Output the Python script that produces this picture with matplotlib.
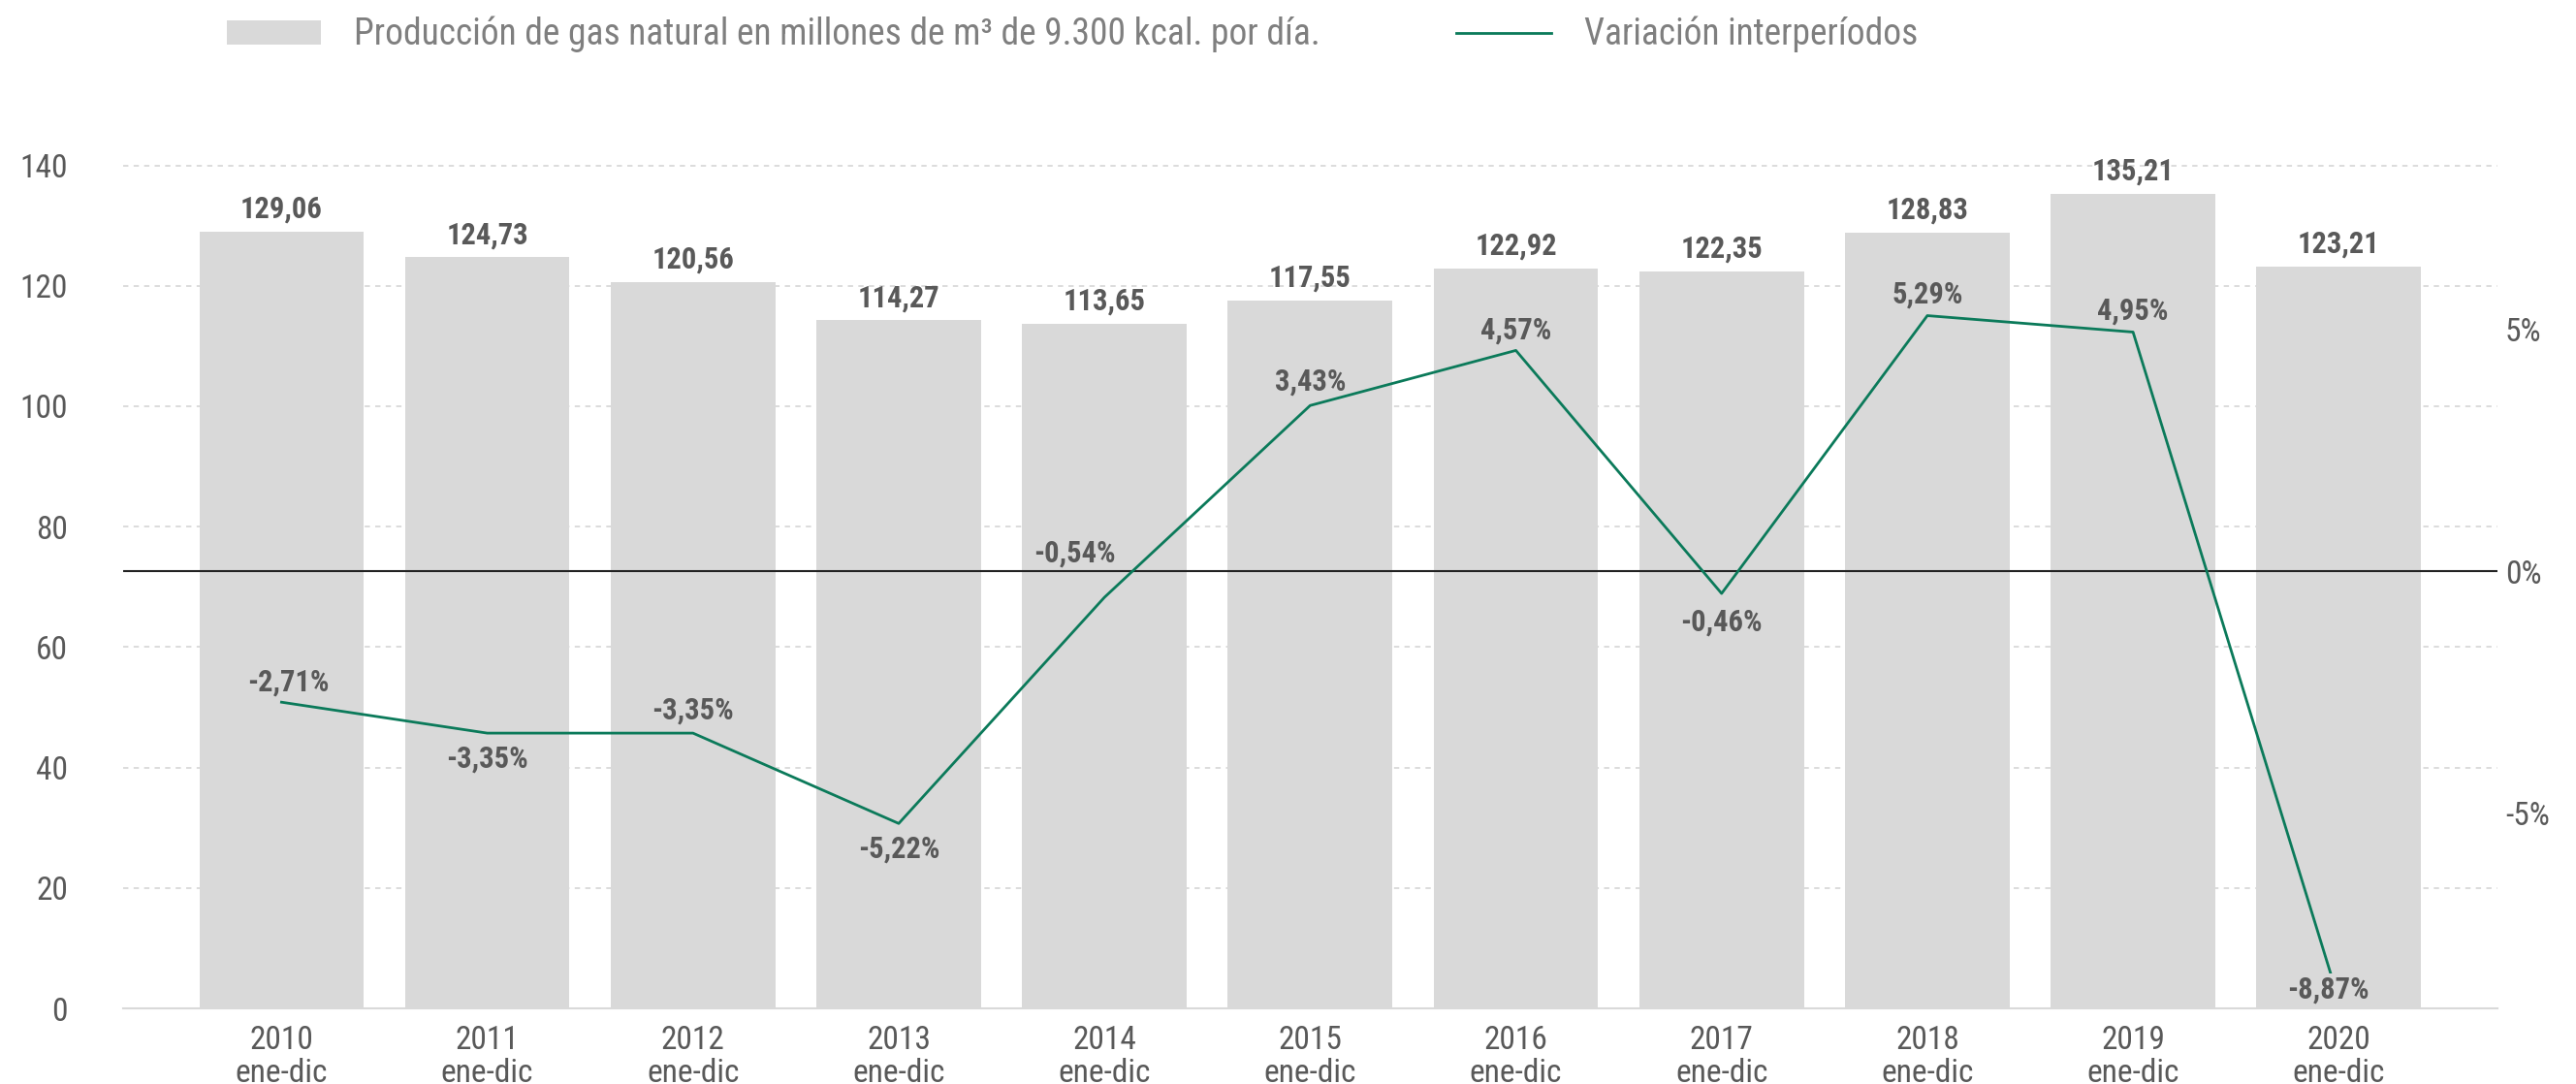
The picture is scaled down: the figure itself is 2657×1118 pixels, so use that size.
import matplotlib
matplotlib.use("Agg")
import matplotlib.pyplot as plt
import numpy as np

plt.rcParams['font.family'] = ['Roboto Condensed', 'Liberation Sans Narrow', 'Roboto', 'DejaVu Sans']

anios = ['2010', '2011', '2012', '2013', '2014', '2015', '2016', '2017', '2018', '2019', '2020']
periodo = 'ene-dic'
produccion = [129.06, 124.73, 120.56, 114.27, 113.65, 117.55, 122.92, 122.35, 128.83, 135.21, 123.21]
variacion = [-2.71, -3.35, -3.35, -5.22, -0.54, 3.43, 4.57, -0.46, 5.29, 4.95, -8.87]

# desplazamiento de las etiquetas de variacion (puntos)
desp_x = [5, 0, 0, 0, -22, 0, 0, 0, 0, 0, -8]
desp_y = [15, -19, 17, -19, 33, 18, 15, -21, 16, 16, 8]

gris_barra = '#d9d9d9'
gris_texto = '#595959'
verde = '#0b7a5a'

fig = plt.figure(figsize=(26.57, 11.18), dpi=100)
ax = fig.add_axes([0.0478, 0.0697, 0.9216, 0.8333])
ax2 = ax.twinx()

x = np.arange(len(anios))
barras = ax.bar(x, produccion, width=0.8, color=gris_barra, zorder=2,
                label='Producción de gas natural en millones de m³ de 9.300 kcal. por día.')
for xi, v in zip(x, produccion):
    ax.annotate(f'{v:.2f}'.replace('.', ','), (xi, v), xytext=(0, 6), textcoords='offset points',
                ha='center', va='bottom', fontsize=22, fontweight='bold', color=gris_texto)

ax.set_ylim(0, 150)
ax.set_xlim(-0.77, len(anios) - 1 + 0.77)
ax.set_yticks(range(0, 141, 20))
ax.yaxis.grid(True, linestyle=(0, (3, 3)), color=gris_barra, linewidth=1.3, zorder=0)
ax.set_axisbelow(True)
ax.set_xticks(x)
ax.set_xticklabels([f'{a}\n{periodo}' for a in anios], linespacing=1.1)
ax.tick_params(axis='both', length=0, labelsize=24, labelcolor=gris_texto)
ax.tick_params(axis='y', pad=41)
ax.tick_params(axis='x', pad=12)
for s in ['top', 'right', 'left']:
    ax.spines[s].set_visible(False)
ax.spines['bottom'].set_color(gris_barra)
ax.spines['bottom'].set_linewidth(1.5)

linea, = ax2.plot(x, variacion, color=verde, linewidth=2, zorder=3, label='Variación interperíodos')
ax2.axhline(0, color='#222222', linewidth=1.5, zorder=2)
for i, (xi, v) in enumerate(zip(x, variacion)):
    t = ax2.annotate(f'{v:.2f}%'.replace('.', ','), (xi, v), xytext=(desp_x[i], desp_y[i]),
                     textcoords='offset points', ha='center', va='center', fontsize=22,
                     fontweight='bold', color=gris_texto, zorder=4)
    if i == len(variacion) - 1:
        t.set_bbox(dict(facecolor=gris_barra, edgecolor='none', pad=1))
ax2.set_ylim(-9.048, 9.646)
ax2.set_yticks([-5, 0, 5])
ax2.set_yticklabels(['-5%', '0%', '5%'])
ax2.tick_params(axis='y', length=0, labelsize=24, labelcolor=gris_texto, pad=6)
for s in ax2.spines.values():
    s.set_visible(False)

ax.set_zorder(1)
ax2.set_zorder(2)
ax.patch.set_visible(False)

fig.legend(handles=[barras, linea], loc='upper left', bbox_to_anchor=(0.0753, 1.015), ncol=2,
           frameon=False, fontsize=27, labelcolor='#7f7f7f', handlelength=2.6, handleheight=0.67,
           handletextpad=0.9, columnspacing=3.75)

fig.savefig('out.png', dpi=100)
